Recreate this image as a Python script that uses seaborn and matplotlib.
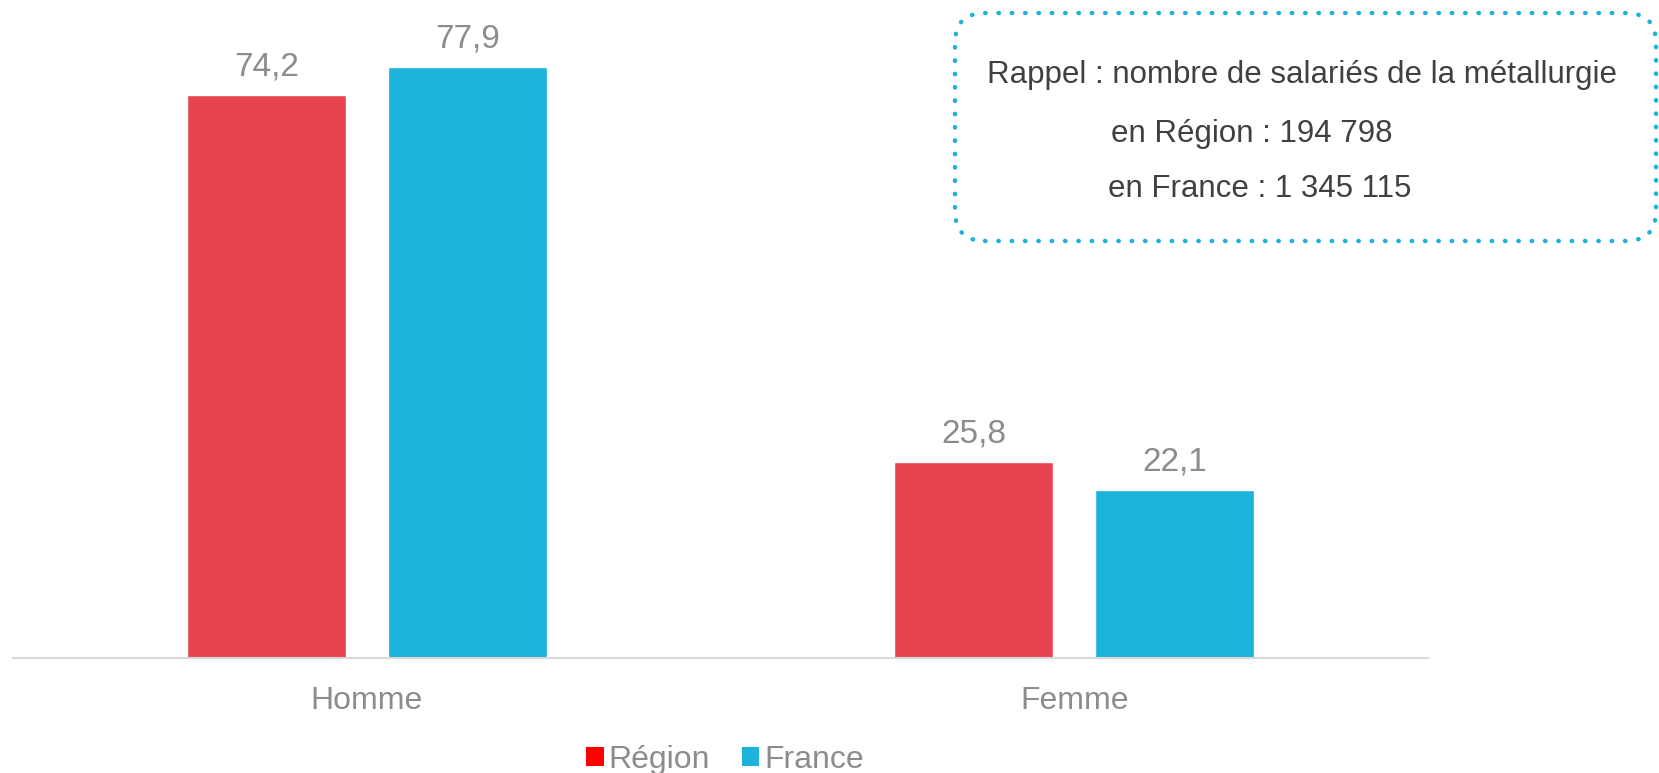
import pandas as pd
import seaborn as sns
import matplotlib.pyplot as plt
from matplotlib.patches import FancyBboxPatch, Patch

# données
sexes = ["Homme", "Femme"]
zones = ["Région", "France"]
regionVals = [74.2, 25.8]
franceVals = [77.9, 22.1]
boxLines = ["Rappel : nombre de salariés de la métallurgie",
            "en Région : 194 798",
            "en France : 1 345 115"]

df = pd.DataFrame({"sexe": sexes * 2,
                   "zone": [zones[0]] * 2 + [zones[1]] * 2,
                   "part": regionVals + franceVals})

sns.set_theme(style="white")
plt.rcParams['font.family'] = ['Liberation Sans', 'DejaVu Sans']

W, H = 1659, 773
fig = plt.figure(figsize=(W / 100, H / 100), dpi=100)
ax = fig.add_axes([13 / W, 115 / H, (1428 - 13) / W, 658 / H])

colors = {"Région": "#E8444F", "France": "#1CB2DA"}
sns.barplot(data=df, x="sexe", y="part", hue="zone", palette=colors,
            width=0.568, gap=0.21, ax=ax, legend=False, saturation=1)

for cont in ax.containers:
    ax.bar_label(cont, labels=[f"{v:.1f}".replace(".", ",") for v in cont.datavalues],
                 padding=9, color="#8C8C8C", fontsize=24)

ax.set_xlim(-0.5, 1.5)
ax.set_ylim(0, 86.7)
ax.set_xlabel("")
ax.set_ylabel("")
ax.set_yticks([])
ax.tick_params(axis="x", length=0, pad=20, labelsize=23, labelcolor="#8C8C8C")
for s in ["top", "left", "right"]:
    ax.spines[s].set_visible(False)
ax.spines["bottom"].set_color("#D9D9D9")
ax.spines["bottom"].set_linewidth(1.5)

handles = [Patch(facecolor="#FF0000", edgecolor="none"),
           Patch(facecolor="#1CB2DA", edgecolor="none")]
fig.legend(handles, zones, loc="center", bbox_to_anchor=(725 / W, 1 - 760 / H),
           ncol=2, frameon=False, fontsize=23, labelcolor="#8C8C8C",
           handlelength=0.55, handleheight=0.55, handletextpad=0.15, columnspacing=1.0)

# encadré rappel
box = FancyBboxPatch((9.55 + 0.3, 5.32 + 0.3), 7.01 - 0.6, 2.28 - 0.6,
                     boxstyle="round,pad=0.3", transform=fig.dpi_scale_trans,
                     facecolor="none", edgecolor="#1CB2DA", linewidth=3.2,
                     linestyle=(0, (0.1, 2.9)))
box.set_capstyle("round")
fig.add_artist(box)

fig.text(987 / W, 1 - 75 / H, boxLines[0], fontsize=22.5, color="#404040", va="center", ha="left")
fig.text(1111 / W, 1 - 134 / H, boxLines[1], fontsize=22.5, color="#404040", va="center", ha="left")
fig.text(1108 / W, 1 - 189 / H, boxLines[2], fontsize=22.5, color="#404040", va="center", ha="left")

fig.savefig("out.png", dpi=100)
